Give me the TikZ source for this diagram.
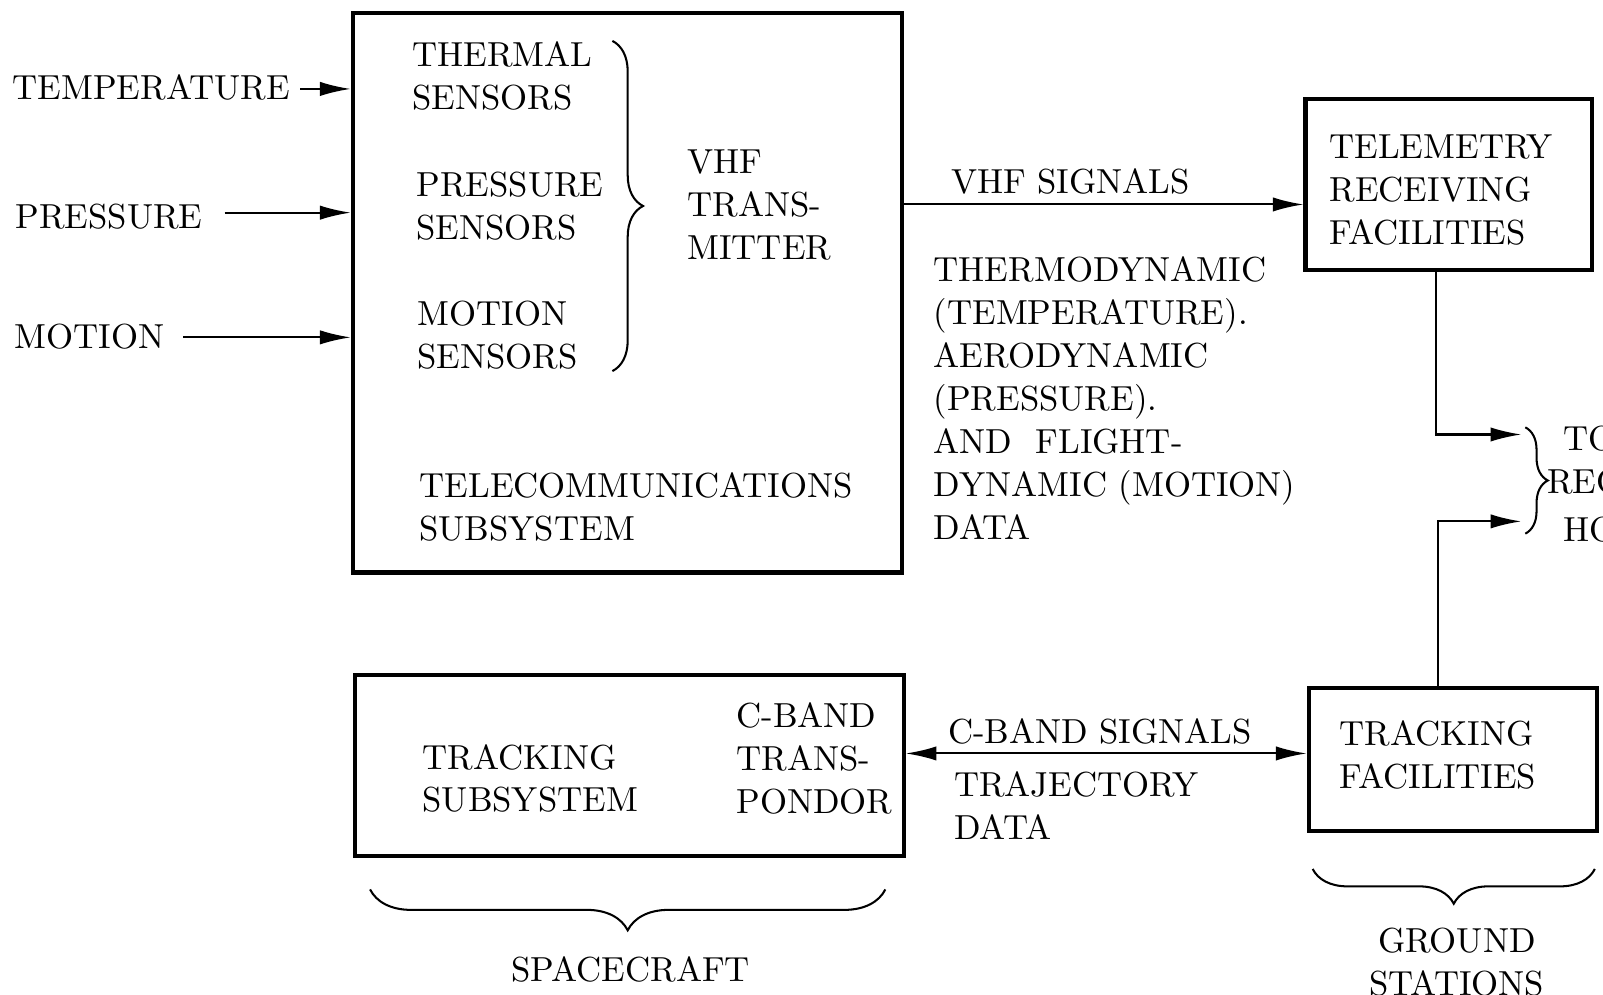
\documentclass[tikz,border=0pt]{standalone}
\usepackage{fontspec}
% the 10pt design of Latin Modern, used at every size (wider, heavier strokes)
\setmainfont{lmroman10-regular.otf}
\usetikzlibrary{arrows.meta,decorations.pathreplacing,fit}
\begin{document}
\begin{tikzpicture}[x=0.5pt,y=-0.5pt,
  txt/.style={font=\fontsize{17}{21}\selectfont, inner sep=0pt, align=left, anchor=north west},
  ctxt/.style={font=\fontsize{17}{21}\selectfont, inner sep=0pt, align=center},
  blk/.style={draw, line width=2pt, inner sep=0pt},
  conn/.style={line width=1pt, -{Latex[length=15pt,width=7pt]}},
  dconn/.style={line width=1pt, {Latex[length=15pt,width=7pt]}-{Latex[length=15pt,width=7pt]}},
  brc/.style={decorate, line width=1pt, decoration={brace, amplitude=#1}}
]
% page frame
\useasboundingbox (0,0) rectangle (1568,973);
\clip (0,0) rectangle (1568,973);
\fill[white] (0,0) rectangle (1568,973);

% blocks
\node[blk, fit={(345,13) (882,560)}] (tele) {};
\node[blk, fit={(1277,97) (1557,264)}] (telem) {};
\node[blk, fit={(1280,673) (1562,813)}] (trackf) {};
\node[blk, fit={(347,660) (884,837)}] (tracks) {};

% inputs
\node[txt] (temp) at (12,72.5) {TEMPERATURE};
\node[txt] (press) at (15,199.5) {PRESSURE};
\node[txt] (motion) at (14,316.5) {MOTION};

% telecommunications subsystem contents
\node[txt] (thsens) at (403,40.5) {THERMAL\\SENSORS};
\node[txt] (prsens) at (407,167.5) {PRESSURE\\SENSORS};
\node[txt] (mosens) at (408,294.5) {MOTION\\SENSORS};
\node[txt] (vhft) at (672,146.5) {VHF\\TRANS-\\MITTER};
\node[txt] (telesub) at (410,461.5) {TELECOMMUNICATIONS\\SUBSYSTEM};
\draw[brc=15pt] (599,40) -- (599,363);

% links to the telecommunications block
\coordinate (tmpy) at (0,87);
\coordinate (prsy) at (0,208);
\coordinate (moty) at (0,330);
\draw[conn] ([xshift=5pt]temp.east |- tmpy) -- (tele.west |- tmpy);
\draw[conn] ([xshift=10.5pt]press.east |- prsy) -- (tele.west |- prsy);
\draw[conn] ([xshift=9pt]motion.east |- moty) -- (tele.west |- moty);

% VHF link
\coordinate (vhfy) at (0,200);
\draw[conn] (tele.east |- vhfy) -- (telem.west |- vhfy);
\node[txt] (vhfsig) at (930,164.5) {VHF SIGNALS};
\node[txt] (thermo) at (913,250.5) {THERMODYNAMIC\\(TEMPERATURE).\\AERODYNAMIC\\(PRESSURE).\\AND\ \ FLIGHT-\\DYNAMIC (MOTION)\\DATA};

% ground facilities
\node[txt] (telemt) at (1300,131.5) {TELEMETRY\\RECEIVING\\FACILITIES};
\node[txt] (trackft) at (1310,704.5) {TRACKING\\FACILITIES};

\coordinate (tmbend) at (1405,425);
\coordinate (tmend) at (1488,425);
\coordinate (tkbend) at (1407,510);
\coordinate (tkend) at (1488,510);
\draw[conn] (telem.south -| tmbend) -- (tmbend) -- (tmend);
\draw[conn] (trackf.north -| tkbend) -- (tkbend) -- (tkend);
\draw[brc=11pt] (1492,418) -- (1492,522);
\node[txt] (to1) at (1529,416.5) {TO};
\node[txt] (to2) at (1513,458.5) {RECORDING};
\node[txt] (to3) at (1529,505.5) {HOUSTON};

% tracking subsystem
\node[txt] (trackst) at (413,727.5) {TRACKING\\SUBSYSTEM};
\node[txt] (cband) at (720,686.5) {C-BAND\\TRANS-\\PONDOR};

\coordinate (cby) at (0,737);
\draw[dconn] (tracks.east |- cby) -- (trackf.west |- cby);
\node[txt] (cbsig) at (927,702.5) {C-BAND SIGNALS};
\node[txt] (traj) at (933,754.5) {TRAJECTORY\\DATA};

% grouping braces
\draw[brc=20pt] (866,870) -- (362,870);
\node[ctxt] (scraft) at (617,948) {SPACECRAFT};
\draw[brc=17pt] (1560,850) -- (1284,850);
\node[ctxt, anchor=north] (ground) at (1425,907.5) {GROUND\\STATIONS};
\end{tikzpicture}
\end{document}
